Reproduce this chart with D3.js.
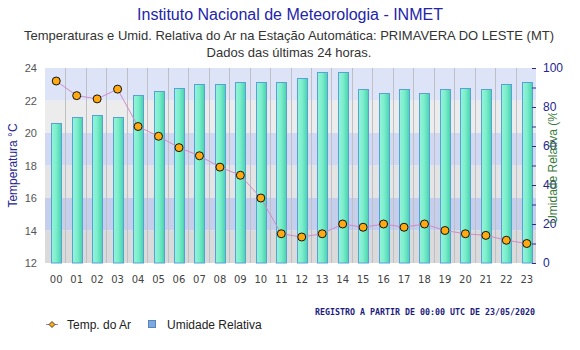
<!doctype html>
<html lang="pt">
  <head>
    <meta charset="utf-8">
    <title>INMET - Primavera do Leste</title>
    <script src="https://d3js.org/d3.v7.min.js"></script>
    <style>
      body { margin: 0; background: #fff; }
      text { font-family: Arial, "Liberation Sans", sans-serif; }
    </style>
  </head>

  <body>
    <svg width="580" height="350"></svg>
    <script>
      // dados
      var horas = ['00','01','02','03','04','05','06','07','08','09','10','11',
                   '12','13','14','15','16','17','18','19','20','21','22','23'];
      var temperatura = [23.2, 22.3, 22.1, 22.7, 20.4, 19.8, 19.1, 18.6, 17.9, 17.4, 16.0, 13.8,
                         13.6, 13.8, 14.4, 14.2, 14.4, 14.2, 14.4, 14.0, 13.8, 13.7, 13.4, 13.2];
      var umidade = [72, 75, 76, 75, 86, 88, 90, 92, 92, 93, 93, 93,
                     95, 98, 98, 89, 87, 89, 87, 89, 90, 89, 92, 93];
      var tempTicks = [12, 14, 16, 18, 20, 22, 24];
      var umidTicks = [0, 10, 20, 30, 40, 50, 60, 70, 80, 90, 100];

      var svg = d3.select('svg');
      var pLeft = 45, pRight = 536, pTop = 68, pBottom = 263;

      var x = d3.scaleBand().domain(horas).range([pLeft, pRight]);
      var yT = d3.scaleLinear().domain([12, 24]).range([pBottom, pTop]);
      var yU = d3.scaleLinear().domain([0, 100]).range([pBottom, pTop]);

      // faixas de fundo
      var bandColors = ['#dadada', '#c5cfec', '#e4e4e4', '#d0d9f1', '#ececec', '#dde4f8'];
      svg.selectAll('rect.band')
        .data(d3.pairs(tempTicks))
        .enter().append('rect')
          .attr('class', 'band')
          .attr('x', pLeft)
          .attr('width', pRight - pLeft)
          .attr('y', function(d){ return yT(d[1]); })
          .attr('height', function(d){ return yT(d[0]) - yT(d[1]); })
          .style('fill', function(d, i){ return bandColors[i]; });

      // linhas verticais
      svg.selectAll('line.grid')
        .data(horas.slice(1))
        .enter().append('line')
          .attr('x1', function(d){ return Math.round(x(d)) + 0.5; })
          .attr('x2', function(d){ return Math.round(x(d)) + 0.5; })
          .attr('y1', pTop).attr('y2', pBottom)
          .style('stroke', '#bfbfc6').style('stroke-width', 1);

      var defs = svg.append('defs');
      var grad = defs.append('linearGradient')
        .attr('id', 'barra').attr('x1', '0%').attr('x2', '100%');
      grad.append('stop').attr('offset', '0%').attr('stop-color', '#93f5d8');
      grad.append('stop').attr('offset', '45%').attr('stop-color', '#7eeecd');
      grad.append('stop').attr('offset', '100%').attr('stop-color', '#46d3ac');

      defs.append('clipPath').attr('id', 'corte')
        .append('rect').attr('x', 530).attr('y', 113).attr('width', 50).attr('height', 200);

      // barras de umidade
      var bw = 10;
      var cx = function(d, i){ return x(horas[i]) + x.bandwidth() / 2 + 1; };
      svg.selectAll('rect.bar')
        .data(umidade)
        .enter().append('rect')
          .attr('class', 'bar')
          .attr('x', function(d, i){ return Math.round(cx(d, i) - bw / 2) + 0.5; })
          .attr('y', function(d){ return Math.round(yU(d)) + 0.5; })
          .attr('width', bw)
          .attr('height', function(d){ return pBottom - Math.round(yU(d)) - 0.5; })
          .style('fill', 'url(#barra)')
          .style('stroke', '#5aa0d8').style('stroke-width', 1);

      // linha da temperatura
      var line = d3.line()
        .x(cx)
        .y(function(d){ return yT(d); });

      svg.append('path')
        .datum(temperatura)
        .attr('d', line)
        .style('fill', 'none')
        .style('stroke', '#d08ac8').style('stroke-width', 1);

      svg.selectAll('circle.temp')
        .data(temperatura)
        .enter().append('circle')
          .attr('class', 'temp')
          .attr('cx', cx)
          .attr('cy', function(d){ return yT(d); })
          .attr('r', 4)
          .style('fill', '#ffaa11')
          .style('stroke', '#111').style('stroke-width', 1);

      // eixos
      var axT = svg.append('g')
        .attr('transform', 'translate(' + pLeft + ',0)')
        .call(d3.axisLeft(yT).tickValues(tempTicks).tickSize(0).tickPadding(8));
      axT.select('.domain').remove();
      axT.selectAll('text').style('font-size', '11px').style('fill', '#555')
        .style('font-family', 'Arial, "Liberation Sans", sans-serif');

      var axU = svg.append('g')
        .attr('transform', 'translate(' + pRight + ',0)')
        .call(d3.axisRight(yU).tickValues(umidTicks).tickSizeInner(-4).tickSizeOuter(0).tickPadding(7)
          .tickFormat(function(d){ return d % 20 === 0 ? d : ''; }));
      axU.select('.domain').remove();
      axU.selectAll('line').style('stroke', '#2a2a8a');
      axU.selectAll('text').style('font-size', '12px').style('fill', '#25258f')
        .style('font-family', 'Arial, "Liberation Sans", sans-serif');

      var axX = svg.append('g')
        .attr('transform', 'translate(1,' + pBottom + ')')
        .call(d3.axisBottom(x).tickSize(0).tickPadding(13));
      axX.select('.domain').remove();
      axX.selectAll('text').style('fill', '#444')
        .style('font-family', '"DejaVu Sans", Verdana, sans-serif').style('font-size', '10px');

      // titulos
      svg.append('text').attr('x', 290).attr('y', 20).attr('text-anchor', 'middle')
        .style('font-size', '16px').style('fill', '#2424a8')
        .text('Instituto Nacional de Meteorologia - INMET');
      svg.append('text').attr('x', 289).attr('y', 40).attr('text-anchor', 'middle')
        .style('font-size', '13px').style('fill', '#333')
        .text('Temperaturas e Umid. Relativa do Ar na Estação Automática: PRIMAVERA DO LESTE (MT)');
      svg.append('text').attr('x', 289).attr('y', 57).attr('text-anchor', 'middle')
        .style('font-size', '13px').style('fill', '#333')
        .text('Dados das últimas 24 horas.');

      svg.append('text')
        .attr('transform', 'translate(17,' + (pTop + pBottom) / 2 + ') rotate(-90)')
        .attr('text-anchor', 'middle')
        .style('font-size', '12px').style('fill', '#25258f')
        .text('Temperatura °C');

      svg.append('g').attr('clip-path', 'url(#corte)')
        .append('text')
        .attr('transform', 'translate(557,' + (pTop + pBottom) / 2 + ') rotate(-90)')
        .attr('text-anchor', 'middle')
        .style('font-size', '12px').style('fill', '#3a7a3a')
        .text('Umidade Relativa (%)');

      // rodape
      svg.append('text').attr('x', 315).attr('y', 315)
        .attr('textLength', 220).attr('lengthAdjust', 'spacingAndGlyphs')
        .style('font-family', '"DejaVu Sans Mono", monospace').style('font-weight', 'bold')
        .style('font-size', '8px').style('fill', '#1c1c80')
        .text('REGISTRO A PARTIR DE 00:00 UTC DE 23/05/2020');

      // legenda
      var leg = svg.append('g');
      leg.append('line').attr('x1', 46).attr('x2', 58).attr('y1', 324.5).attr('y2', 324.5)
        .style('stroke', '#b07aa8');
      leg.append('path').attr('d', 'M52,321.5L55,324.5L52,327.5L49,324.5Z')
        .style('fill', '#ffaa11').style('stroke', '#222').style('stroke-width', 0.8);
      leg.append('text').attr('x', 67).attr('y', 329).style('font-size', '12px').style('fill', '#222')
        .text('Temp. do Ar');
      leg.append('rect').attr('x', 148.5).attr('y', 320.5).attr('width', 7).attr('height', 7)
        .style('fill', '#7aaae0').style('stroke', '#5a84b8');
      leg.append('text').attr('x', 167).attr('y', 329).style('font-size', '12px').style('fill', '#222')
        .text('Umidade Relativa');
    </script>
  </body>
</html>
